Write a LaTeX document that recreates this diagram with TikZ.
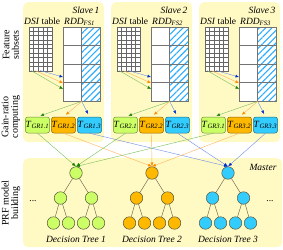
\documentclass[tikz,border=0pt]{standalone}
\usepackage{fontspec}
\setmainfont{Liberation Serif}
\usetikzlibrary{arrows.meta,patterns.meta}
\definecolor{panel}{RGB}{255,249,196}
\definecolor{cg}{RGB}{204,255,102}
\definecolor{co}{RGB}{255,184,0}
\definecolor{cb}{RGB}{51,204,255}
\definecolor{ag}{RGB}{30,130,0}
\definecolor{ao}{RGB}{255,140,0}
\definecolor{ab}{RGB}{0,51,204}
\definecolor{lg}{RGB}{120,190,90}
\definecolor{lo}{RGB}{255,180,90}
\definecolor{lb}{RGB}{110,140,230}
\definecolor{edge}{RGB}{90,90,60}
\begin{document}
\begin{tikzpicture}[x=1pt,y=-1pt,font=\fontsize{9.5}{11}\selectfont,
  panelbox/.style={fill=panel,draw=none,rounded corners=5pt,inner sep=0,anchor=north west},
  tbox/.style={rounded corners=2.5pt,minimum width=23pt,minimum height=16pt,inner sep=0.3pt,line width=0.5pt},
  tnode/.style={circle,minimum size=12.5pt,inner sep=0,draw=edge,line width=0.5pt},
  gl/.style={line width=0.4pt},
  tlab/.style={font=\fontsize{9.5}{11}\selectfont\itshape}]
\useasboundingbox (0,0) rectangle (283,249);
% side labels
\node[rotate=90,align=center,font=\fontsize{10}{9.5}\selectfont] (lab1) at (11,45) {Feature\\subsets};
\node[rotate=90,align=center,font=\fontsize{10}{9.5}\selectfont] (lab2) at (11,117) {Gain-ratio\\computing};
\node[rotate=90,align=center,font=\fontsize{10}{9.5}\selectfont] (lab3) at (11,203) {PRF model\\building};
% master panel
\node[panelbox,minimum width=259pt,minimum height=89pt] (master) at (23,158) {};
\node[anchor=east,font=\fontsize{9.5}{11}\selectfont\itshape] (mlab) at (280,167) {Master};
% slaves
\foreach \i/\dx in {1/0,2/88,3/176}{
  \node[panelbox,minimum width=81pt,minimum height=140pt] (s\i) at (23+\dx,2) {};
  \node[anchor=north east,font=\fontsize{9.5}{11}\selectfont\itshape] (sl\i) at (103+\dx,3) {Slave\,\i};
  \node[anchor=base west,inner sep=0] (dl\i) at (24+\dx,24) {\textit{DSI} table};
  \node[anchor=base west,inner sep=0] (rl\i) at (64+\dx,24) {\textit{RDD}\textsubscript{\textit{FS\i}}};
  % DSI grid
  \node[draw=black!60,fill=white,minimum width=23pt,minimum height=44pt,inner sep=0,anchor=north west,line width=0.35pt] (dsi\i) at (29+\dx,26.5) {};
  \foreach \k in {1,...,4}{\draw[black!60,line width=0.35pt] (dsi\i.north west) ++(\k*4.6,0) -- ++(0,44);}
  \foreach \k in {1,...,9}{\draw[black!60,line width=0.35pt] (dsi\i.north west) ++(0,\k*4.4) -- ++(23,0);}
  % RDD
  \node[fill=white,minimum width=37pt,minimum height=74pt,inner sep=0,anchor=north west] (rdd\i) at (63+\dx,27) {};
  \fill[pattern={Lines[angle=45,distance=4.5pt,line width=1.1pt]},pattern color=cb!85!blue] (rdd\i.north) rectangle (rdd\i.south east);
  \draw[black!55,line width=0.5pt] (rdd\i.north west) rectangle (rdd\i.south east);
  \draw[black!55,line width=0.5pt] (rdd\i.north) -- (rdd\i.south);
  \foreach \k in {1,2,3}{\draw[black!55,line width=0.5pt] (rdd\i.north west) ++(0,\k*18.5) -- ++(37,0);}
  % arrows grid -> RDD
  \coordinate (gg\i) at (31+\dx,70.5);
  \coordinate (go\i) at (35+\dx,70.5);
  \coordinate (gb\i) at (40+\dx,70.5);
  \coordinate (ig\i) at (63+\dx,89);
  \coordinate (io\i) at (63+\dx,83);
  \coordinate (ib\i) at (63+\dx,77);
  \draw[lg,gl,-{Latex[length=3.5pt,width=3pt,color=ag]}] (gg\i) -- (ig\i);
  \draw[lo,gl,-{Latex[length=3.5pt,width=3pt,color=ao]}] (go\i) -- (io\i);
  \draw[lb,gl,-{Latex[length=3.5pt,width=3pt,color=ab]}] (gb\i) -- (ib\i);
  % T boxes
  \node[tbox,fill=cg,draw=cg!55!black] (t\i1) at (37.5+\dx,125) {\textit{T}\textsubscript{\textit{GR\i.1}}};
  \node[tbox,fill=co,draw=co!55!black] (t\i2) at (63.5+\dx,125) {\textit{T}\textsubscript{\textit{GR\i.2}}};
  \node[tbox,fill=cb,draw=cb!55!black] (t\i3) at (89.5+\dx,125) {\textit{T}\textsubscript{\textit{GR\i.3}}};
  \draw[lg,gl,shorten >=3pt,-{Latex[length=3.5pt,width=3pt,color=ag]}] (rdd\i.south) -- (t\i1.north);
  \draw[lo,gl,shorten >=3pt,-{Latex[length=3.5pt,width=3pt,color=ao]}] (rdd\i.south) -- (t\i2.north);
  \draw[lb,gl,shorten >=3pt,-{Latex[length=3.5pt,width=3pt,color=ab]}] (rdd\i.south) -- (t\i3.north);
}
% trees
\foreach \j/\x/\c in {1/76/cg,2/152/co,3/228/cb}{
  \node[tnode,fill=\c] (r\j) at (\x,173) {};
  \node[tnode,fill=\c] (a\j) at (\x-15.5,198) {};
  \node[tnode,fill=\c] (b\j) at (\x+15.5,198) {};
  \node[tnode,fill=\c] (l\j a) at (\x-22.5,223) {};
  \node[tnode,fill=\c] (l\j b) at (\x-7.5,223) {};
  \node[tnode,fill=\c] (l\j c) at (\x+7.5,223) {};
  \node[tnode,fill=\c] (l\j d) at (\x+22.5,223) {};
  \draw[edge,line width=0.4pt] (r\j) -- (a\j) (r\j) -- (b\j) (a\j) -- (l\j a) (a\j) -- (l\j b) (b\j) -- (l\j c) (b\j) -- (l\j d);
  \node[tlab] (dt\j) at (\x,239) {Decision Tree \j};
}
\node[anchor=base] (dotsl) at (33,201) {...};
\node[anchor=base] (dotsr) at (270,201) {...};
% T -> roots
\foreach \i in {1,2,3}{
  \draw[lg,gl,-{Latex[length=4pt,width=3pt,color=ag]}] (t\i1.south) -- (r1.north);
  \draw[lo,gl,-{Latex[length=4pt,width=3pt,color=ao]}] (t\i2.south) -- (r2.north);
  \draw[lb,gl,-{Latex[length=4pt,width=3pt,color=ab]}] (t\i3.south) -- (r3.north);
}
\end{tikzpicture}
\end{document}
